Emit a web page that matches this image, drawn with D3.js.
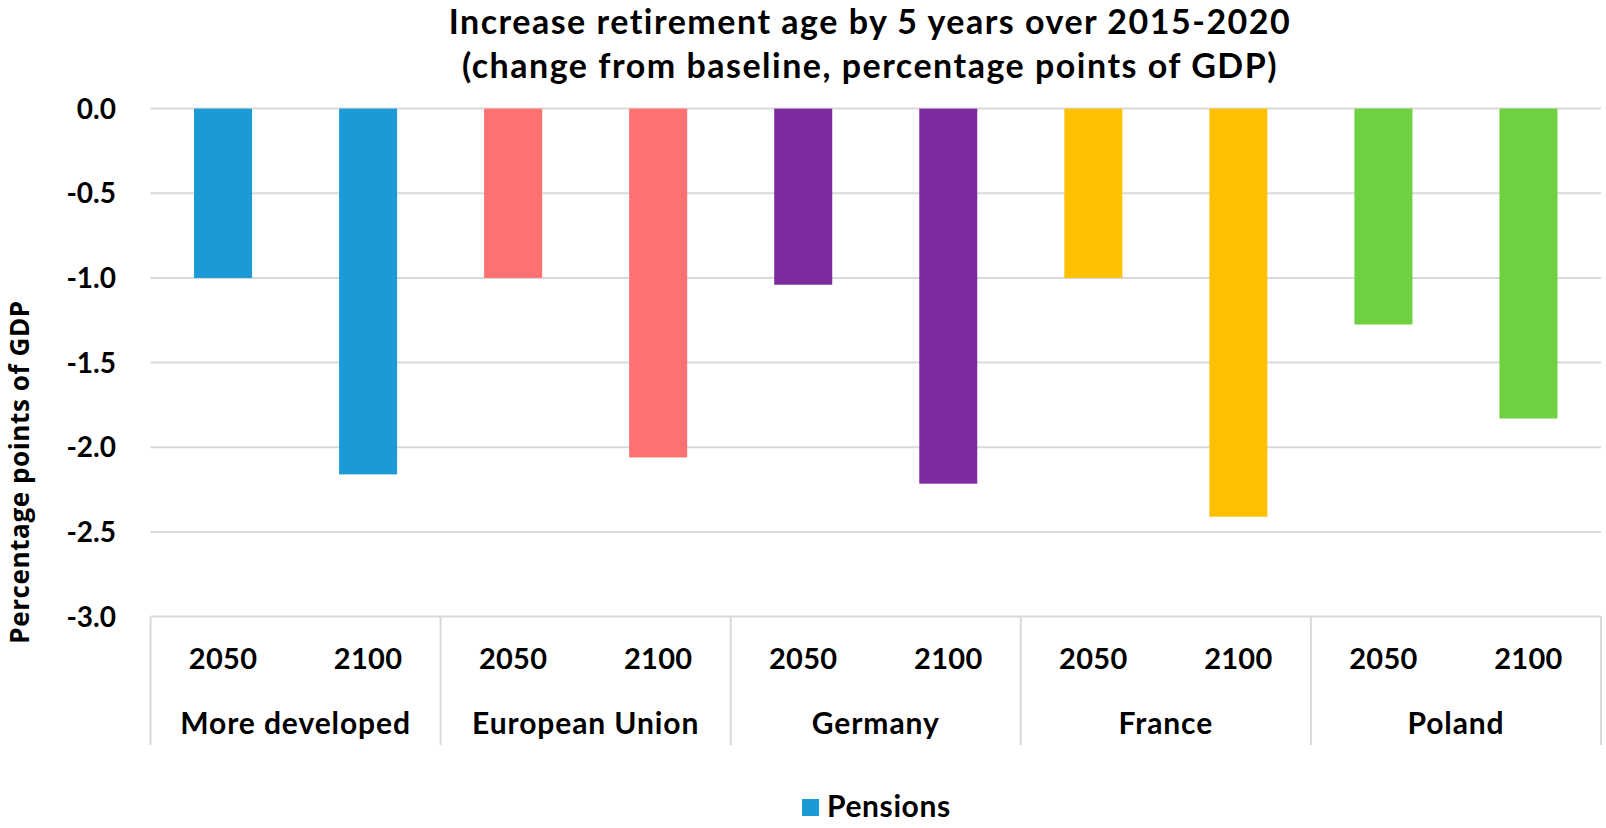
<!DOCTYPE html>
<html>
<head>
<meta charset="utf-8">
<script src="https://cdn.jsdelivr.net/npm/d3@7"></script>
<style>
  html, body { margin: 0; padding: 0; background: #fff; }
  svg { display: block; }
  text { font-family: Lato, "Noto Sans", sans-serif; font-weight: 700; fill: #000; }
</style>
</head>
<body>
<svg id="chart" width="1606" height="828"></svg>
<script>
// Regions and projection years
const groups = ["More developed", "European Union", "Germany", "France", "Poland"];
const years = ["2050", "2100"];
// Change in pension spending, percentage points of GDP (2050, 2100 per region)
const moreDeveloped = [-1.00, -2.16];
const europeanUnion = [-1.00, -2.06];
const germany = [-1.04, -2.215];
const france = [-1.00, -2.41];
const poland = [-1.275, -1.83];
const groupColors = ["#1B9AD7", "#FF7171", "#7F2BA0", "#FFC000", "#6DD141"];
const yTicks = [0, -0.5, -1, -1.5, -2, -2.5, -3];
const seriesName = "Pensions";

const values = [moreDeveloped, europeanUnion, germany, france, poland];
const rows = groups.flatMap((g, gi) => years.map((yr, yi) => ({
  group: g, year: yr, value: values[gi][yi], color: groupColors[gi]
})));

const svg = d3.select("#chart");
const plotLeft = 150.5, plotRight = 1601, plotTop = 108.6, plotBottom = 616.6;

const x0 = d3.scaleBand().domain(groups).range([plotLeft, plotRight]).padding(0);
const x1 = d3.scaleBand().domain(years).range([0, x0.bandwidth()])
  .paddingInner(0.6).paddingOuter(0.3);
const y = d3.scaleLinear().domain([-3, 0]).range([plotBottom, plotTop]);

// Horizontal gridlines
svg.append("g").selectAll("line").data(yTicks).join("line")
  .attr("x1", plotLeft).attr("x2", plotRight)
  .attr("y1", d => y(d)).attr("y2", d => y(d))
  .attr("stroke", "#D9D9D9").attr("stroke-width", 2);

// Y tick labels
svg.append("g").selectAll("text").data(yTicks).join("text")
  .attr("x", 116).attr("y", d => y(d))
  .attr("dy", "0.36em")
  .attr("text-anchor", "end")
  .style("font-size", "28px")
  .text(d => d3.format(".1f")(d).replace("−", "-"));

// Bars (hang down from zero)
svg.append("g").selectAll("rect").data(rows).join("rect")
  .attr("x", d => x0(d.group) + x1(d.year))
  .attr("width", x1.bandwidth())
  .attr("y", d => y(Math.max(0, d.value)))
  .attr("height", d => Math.abs(y(d.value) - y(0)))
  .attr("fill", d => d.color);

// Category axis separators
const sepBottom = 745;
svg.append("g").selectAll("line").data(groups.map(g => x0(g)).concat([plotRight])).join("line")
  .attr("x1", d => d).attr("x2", d => d)
  .attr("y1", plotBottom).attr("y2", sepBottom)
  .attr("stroke", "#D9D9D9").attr("stroke-width", 2);

// Year labels
svg.append("g").selectAll("text").data(rows).join("text")
  .attr("x", d => x0(d.group) + x1(d.year) + x1.bandwidth() / 2)
  .attr("y", 669)
  .attr("text-anchor", "middle")
  .style("font-size", "29px")
  .style("letter-spacing", "0.3px")
  .text(d => d.year);

// Group labels
svg.append("g").selectAll("text").data(groups).join("text")
  .attr("x", d => x0(d) + x0.bandwidth() / 2)
  .attr("y", 734)
  .attr("text-anchor", "middle")
  .style("font-size", "30px")
  .style("letter-spacing", "0.9px")
  .text(d => d);

// Title
const title = svg.append("text")
  .attr("x", 870).attr("text-anchor", "middle")
  .style("font-size", "34px")
  .style("letter-spacing", "1.5px");
title.append("tspan").attr("x", 870).attr("y", 34)
  .text("Increase retirement age by 5 years over 2015-2020");
title.append("tspan").attr("x", 870).attr("y", 78)
  .text("(change from baseline, percentage points of GDP)");

// Y axis title
svg.append("text")
  .attr("transform", "translate(29,472) rotate(-90)")
  .attr("text-anchor", "middle")
  .style("font-family", "'Open Sans', sans-serif")
  .style("font-size", "26px")
  .style("letter-spacing", "0.6px")
  .text("Percentage points of GDP");

// Legend
const legend = svg.append("g");
legend.append("rect").attr("x", 802).attr("y", 799).attr("width", 17).attr("height", 17)
  .attr("fill", groupColors[0]);
legend.append("text").attr("x", 827).attr("y", 817)
  .style("font-size", "30px")
  .style("letter-spacing", "0.6px")
  .text(seriesName);
</script>
</body>
</html>
